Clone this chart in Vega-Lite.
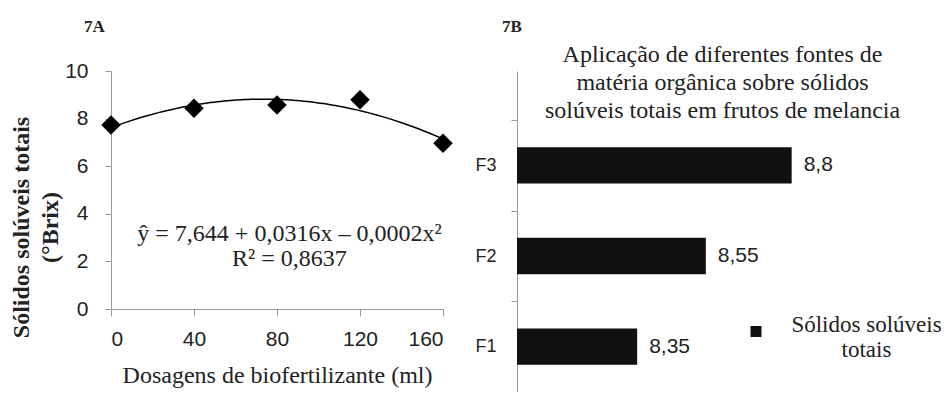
{
  "$schema": "https://vega.github.io/schema/vega-lite/v6.json",
  "background": "white",
  "padding": {"left": 9, "top": 18, "right": 0, "bottom": 0},
  "spacing": 21,
  "resolve": {"scale": {"color": "independent"}, "legend": {"color": "independent"}},
  "config": {
    "view": {"stroke": null},
    "font": "Liberation Serif",
    "locale": {"number": {"decimal": ",", "thousands": ".", "grouping": [3], "currency": ["", ""]}}
  },
  "hconcat": [
    {
      "width": 332,
      "height": 238,
      "title": {"text": "7A", "anchor": "start", "frame": "group", "dx": -27, "offset": 24, "font": "Liberation Serif", "fontSize": 17, "fontWeight": "bold", "color": "#222"},
      "data": {"values": [
        {"dose": 0, "ss": 7.73},
        {"dose": 40, "ss": 8.43},
        {"dose": 80, "ss": 8.57},
        {"dose": 120, "ss": 8.79},
        {"dose": 160, "ss": 6.96}
      ]},
      "layer": [
        {
          "transform": [{"regression": "ss", "on": "dose", "method": "poly", "order": 2, "extent": [0, 160]}],
          "mark": {"type": "line", "color": "black", "strokeWidth": 1.5},
          "encoding": {
            "x": {"field": "dose", "type": "quantitative"},
            "y": {"field": "ss", "type": "quantitative"}
          }
        },
        {
          "mark": {"type": "point", "shape": "diamond", "filled": true, "color": "black", "size": 380, "opacity": 1},
          "encoding": {
            "x": {"field": "dose", "type": "quantitative", "scale": {"domain": [0, 160]},
              "axis": {"title": "Dosagens de biofertilizante (ml)", "values": [0, 40, 80, 120, 160], "grid": false,
                "labelFont": "Liberation Sans", "labelFontSize": 21, "labelColor": "#222", "labelPadding": 12,
                "tickSize": 7, "tickColor": "#999", "domainColor": "#999",
                "titleFont": "Liberation Serif", "titleFontSize": 24, "titleFontWeight": "normal", "titleColor": "#222", "titlePadding": 14}},
            "y": {"field": "ss", "type": "quantitative", "scale": {"domain": [0, 10]},
              "axis": {"title": ["Sólidos solúveis totais", "(°Brix)"], "values": [0, 2, 4, 6, 8, 10], "grid": false,
                "labelFont": "Liberation Sans", "labelFontSize": 21, "labelColor": "#222", "labelPadding": 17,
                "tickSize": 6, "tickColor": "#999", "domainColor": "#999",
                "titleFont": "Liberation Serif", "titleFontSize": 24, "titleFontWeight": "bold", "titleColor": "#222",
                "titleY": 156, "titlePadding": 2, "titleLineHeight": 29}}
          }
        },
        {
          "data": {"values": [
            {"dose": 86, "ss": 2.86, "t": "ŷ = 7,644 + 0,0316x – 0,0002x²"},
            {"dose": 86, "ss": 1.81, "t": "R² = 0,8637"}
          ]},
          "mark": {"type": "text", "font": "Liberation Serif", "fontSize": 24, "baseline": "alphabetic", "align": "center", "color": "#222"},
          "encoding": {
            "x": {"field": "dose", "type": "quantitative"},
            "y": {"field": "ss", "type": "quantitative"},
            "text": {"field": "t", "type": "nominal"}
          }
        }
      ]
    },
    {
      "width": 412,
      "height": 321,
      "title": {"text": "7B", "anchor": "start", "frame": "group", "dx": -15, "offset": 6, "font": "Liberation Serif", "fontSize": 17, "fontWeight": "bold", "color": "#222"},
      "data": {"values": [
        {"fonte": "F3", "ss": 8.8, "serie": "Sólidos solúveis totais"},
        {"fonte": "F2", "ss": 8.55, "serie": "Sólidos solúveis totais"},
        {"fonte": "F1", "ss": 8.35, "serie": "Sólidos solúveis totais"}
      ]},
      "encoding": {
        "y": {"field": "fonte", "type": "nominal", "sort": ["F3", "F2", "F1"],
          "scale": {"paddingInner": 0.6, "paddingOuter": 0.5702, "align": 0.737},
          "axis": {"title": ["Aplicação de diferentes fontes de", "matéria orgânica sobre sólidos", "solúveis totais em frutos de melancia"],
            "titleAngle": 0, "titleX": 205, "titleY": -10, "titleAlign": "center", "titleBaseline": "alphabetic", "titleLineHeight": 28,
            "titleFont": "Liberation Serif", "titleFontSize": 24, "titleFontWeight": "normal", "titleColor": "#222",
            "labelFont": "Liberation Sans", "labelFontSize": 18, "labelColor": "#222", "labelPadding": 15,
            "domain": true, "domainColor": "#999", "tickOffset": -45.33, "labelOffset": 45.33, "tickSize": 6, "tickColor": "#999"}},
        "x": {"field": "ss", "type": "quantitative", "scale": {"domain": [8, 9.2], "zero": false}, "axis": null}
      },
      "layer": [
        {
          "mark": {"type": "bar"},
          "encoding": {
            "x2": {"datum": 8},
            "color": {"field": "serie", "type": "nominal", "scale": {"range": ["#111"]},
              "legend": {"orient": "none", "legendX": 227.5, "legendY": 249, "title": null, "padding": 0,
                "symbolType": "square", "symbolSize": 121, "symbolStrokeWidth": 0,
                "labelFont": "Liberation Serif", "labelFontSize": 23, "labelColor": "#222", "labelLineHeight": 29,
                "labelExpr": "['Sólidos solúveis', 'totais']", "labelAlign": "center", "labelOffset": 99,
                "labelBaseline": "alphabetic", "labelLimit": 0}}
          }
        },
        {
          "mark": {"type": "text", "align": "left", "dx": 12, "font": "Liberation Sans", "fontSize": 21, "color": "#222"},
          "encoding": {
            "text": {"field": "ss", "type": "quantitative", "format": ".2~f"}
          }
        }
      ]
    }
  ]
}
